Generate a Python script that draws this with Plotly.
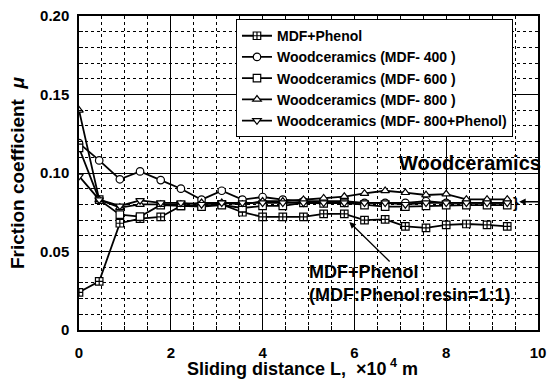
import plotly.graph_objects as go

# ---- data ----
distance = [0, 0.44, 0.89, 1.33, 1.78, 2.22, 2.67, 3.11, 3.56, 4.0, 4.44,
            4.89, 5.33, 5.78, 6.22, 6.67, 7.11, 7.56, 8.0, 8.44, 8.89, 9.33]

mdf_phenol = [0.024, 0.031, 0.068, 0.071, 0.072, 0.079, 0.079, 0.080, 0.075, 0.072, 0.072,
              0.072, 0.074, 0.074, 0.070, 0.0705, 0.066, 0.065, 0.067, 0.0675, 0.067, 0.066]
wc_mdf400 = [0.119, 0.108, 0.096, 0.101, 0.0955, 0.090, 0.083, 0.0887, 0.083, 0.0847, 0.083,
             0.082, 0.082, 0.082, 0.081, 0.081, 0.081, 0.082, 0.081, 0.081, 0.081, 0.081]
wc_mdf600 = [0.116, 0.083, 0.0735, 0.0722, 0.0796, 0.079, 0.0786, 0.0796, 0.0777, 0.079, 0.079,
             0.081, 0.0807, 0.081, 0.0796, 0.0786, 0.0786, 0.079, 0.0796, 0.0796, 0.0796, 0.0796]
wc_mdf800 = [0.140, 0.083, 0.078, 0.080, 0.080, 0.080, 0.081, 0.081, 0.080, 0.082, 0.082,
             0.083, 0.084, 0.085, 0.087, 0.0887, 0.0875, 0.086, 0.0866, 0.0832, 0.0832, 0.0832]
wc_mdf800p = [0.098, 0.083, 0.079, 0.0825, 0.081, 0.081, 0.080, 0.081, 0.081, 0.081, 0.081,
              0.081, 0.081, 0.081, 0.081, 0.081, 0.080, 0.081, 0.081, 0.081, 0.081, 0.081]

series_names = ["MDF+Phenol", "Woodceramics (MDF- 400 )", "Woodceramics (MDF- 600 )",
                "Woodceramics (MDF- 800 )", "Woodceramics (MDF- 800+Phenol)"]
series_values = [mdf_phenol, wc_mdf400, wc_mdf600, wc_mdf800, wc_mdf800p]
series_symbols = ["square-cross", "circle", "square", "triangle-up", "triangle-down"]

x_ticks = [0, 2, 4, 6, 8, 10]
x_ticklabels = ["0", "2", "4", "6", "8", "10"]
y_ticks = [0, 0.05, 0.10, 0.15, 0.20]
y_ticklabels = ["0", "0.05", "0.10", "0.15", "0.20"]

FONT = "Liberation Sans, Arial, sans-serif"

fig = go.Figure()
for name, vals, sym in zip(series_names, series_values, series_symbols):
    fig.add_trace(go.Scatter(
        x=distance, y=vals, name=name, mode="lines+markers",
        line=dict(color="black", width=1.8),
        marker=dict(symbol=sym, size=7.5, color="white",
                    line=dict(color="black", width=1.2)),
    ))

axis_common = dict(
    showline=True, linecolor="black", linewidth=1.5, mirror=True,
    showgrid=True, gridcolor="black", gridwidth=1,
    zeroline=False, ticks="inside", ticklen=5, tickcolor="black",
    ticklabeloverflow="allow",
    tickfont=dict(family=FONT, size=15, color="black", weight="bold"),
)

fig.update_xaxes(range=[0, 10], tickvals=x_ticks, ticktext=x_ticklabels,
                 ticklabelstandoff=8,
                 minor=dict(dtick=0.5, tick0=0, showgrid=True, gridcolor="black",
                            griddash="dot", gridwidth=1, ticks="inside", ticklen=4,
                            tickcolor="black"),
                 **axis_common)
fig.update_yaxes(range=[0, 0.2], tickvals=y_ticks, ticktext=y_ticklabels,
                 ticklabelstandoff=5,
                 minor=dict(dtick=0.01, tick0=0, showgrid=True, gridcolor="black",
                            griddash="dot", gridwidth=1, ticks="inside", ticklen=4,
                            tickcolor="black"),
                 **axis_common)

fig.update_layout(
    width=548, height=383,
    margin=dict(l=79, r=10, t=16, b=53, autoexpand=False),
    paper_bgcolor="white", plot_bgcolor="white",
    font=dict(family=FONT, color="black"),
    legend=dict(x=0.342, y=0.99, xanchor="left", yanchor="top",
                bgcolor="white", bordercolor="black", borderwidth=1,
                font=dict(family=FONT, size=14, color="black", weight="bold"),
                tracegroupgap=0, itemwidth=30),
    showlegend=True,
)

ann_font = dict(family=FONT, color="black", weight="bold")
# axis titles
fig.add_annotation(xref="paper", yref="paper", x=-0.135, y=0.5, textangle=-90,
                   text="Friction coefficient  <i>μ</i>", showarrow=False,
                   font=dict(size=19, **ann_font), xanchor="center", yanchor="middle")
fig.add_annotation(xref="paper", yref="paper", x=0.486, y=-0.118,
                   text="Sliding distance L,  ×10<sup> 4</sup> m", showarrow=False,
                   font=dict(size=18, **ann_font), xanchor="center", yanchor="middle")
# in-plot labels
fig.add_annotation(xref="paper", x=1.01, y=0.1065, text="Woodceramics", showarrow=False,
                   xanchor="right", yanchor="middle", font=dict(size=20, **ann_font))
fig.add_annotation(x=9.59, y=0.0817, ax=22, ay=0, text="", showarrow=True,
                   arrowhead=2, arrowsize=1, arrowwidth=1.3, arrowcolor="black")
fig.add_annotation(x=9.52, y=0.081, text="}", showarrow=False,
                   xanchor="center", yanchor="middle", font=dict(size=15, **ann_font))
fig.add_annotation(x=4.96, y=0.0296, text="MDF+Phenol<br>(MDF:Phenol resin=1:1)",
                   showarrow=False, xanchor="left", yanchor="middle", align="left",
                   font=dict(size=18, **ann_font))
fig.add_annotation(x=5.89, y=0.0688, ax=6.8, ay=0.0427, axref="x", ayref="y",
                   text="", showarrow=True, arrowhead=2, arrowsize=1,
                   arrowwidth=1.3, arrowcolor="black")

fig.write_html("out.html",
               config={"displayModeBar": False},
               post_script="document.body.style.margin='0';"
                           "document.body.style.overflow='hidden';")
